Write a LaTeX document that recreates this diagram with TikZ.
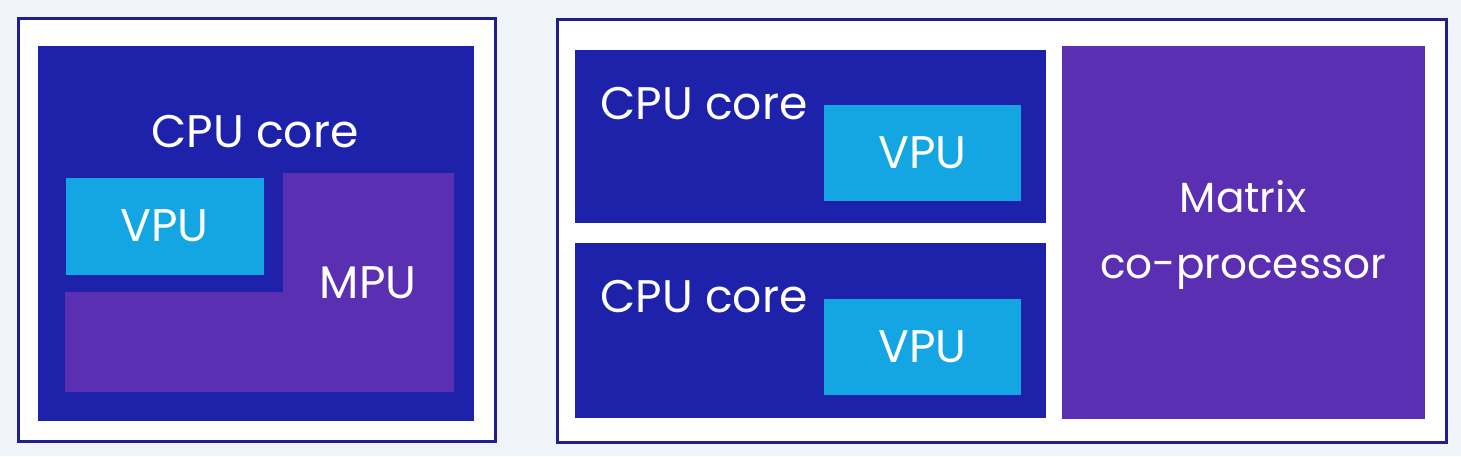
\documentclass[tikz,border=0pt]{standalone}
\usepackage{fontspec}
\setmainfont{Poppins}
\usetikzlibrary{positioning}
\definecolor{chipBg}{RGB}{240,244,248}
\definecolor{chipNavy}{RGB}{30,30,140}
\definecolor{chipCore}{RGB}{30,34,170}
\definecolor{chipMatrix}{RGB}{90,47,178}
\definecolor{chipVector}{RGB}{20,165,227}
\begin{document}
\begin{tikzpicture}[
      frame/.style={draw=chipNavy, line width=0.9pt, fill=white, inner sep=0pt, anchor=north west},
      block/.style={inner sep=0pt, anchor=north west},
      label/.style={text=white, font=\fontsize{13}{19}\selectfont, align=center, inner sep=0pt}
    ]
    \fill[chipBg] (0,0) rectangle (14.61,-4.56);
    \useasboundingbox (0,0) rectangle (14.61,-4.56);

    % single core with matrix unit inside
    \node[frame, minimum width=4.77cm, minimum height=4.23cm] (leftchip) at (0.17,-0.17) {};
    \node[block, fill=chipCore, minimum width=4.36cm, minimum height=3.75cm] (leftcore) at (0.37,-0.45) {};
    \node[block, fill=chipVector, minimum width=1.98cm, minimum height=0.97cm] (leftvpu) at (0.65,-1.77) {};
    \fill[chipMatrix] (2.83,-1.73) -- (4.54,-1.73) -- (4.54,-3.92) -- (0.65,-3.92)
      -- (0.65,-2.92) -- (2.83,-2.92) -- cycle;
    \node[label] (leftcorelabel) at (2.55,-1.32) {CPU core};
    \node[label] at (leftvpu.center) {VPU};
    \node[label] (mpulabel) at (3.68,-2.83) {MPU};

    % two cores sharing a co-processor
    \node[frame, minimum width=8.89cm, minimum height=4.23cm] (rightchip) at (5.56,-0.18) {};
    \node[block, fill=chipCore, minimum width=4.71cm, minimum height=1.73cm] (topcore) at (5.74,-0.49) {};
    \node[block, fill=chipCore, minimum width=4.71cm, minimum height=1.75cm] (bottomcore) at (5.74,-2.42) {};
    \node[block, fill=chipMatrix, minimum width=3.63cm, minimum height=3.73cm] (matrix) at (10.61,-0.45) {};
    \node[block, fill=chipVector, minimum width=1.97cm, minimum height=0.96cm] (topvpu) at (8.23,-1.04) {};
    \node[block, fill=chipVector, minimum width=1.97cm, minimum height=0.96cm] (bottomvpu) at (8.23,-2.98) {};
    \node[label] (topcorelabel) at (7.04,-1.04) {CPU core};
    \node[label] (bottomcorelabel) at (7.04,-2.97) {CPU core};
    \node[label] at (topvpu.center) {VPU};
    \node[label] at (bottomvpu.center) {VPU};
    \node[label, font=\fontsize{12}{19}\selectfont] (matrixlabel) at (12.43,-2.35) {Matrix\\co-processor};
  \end{tikzpicture}
\end{document}
